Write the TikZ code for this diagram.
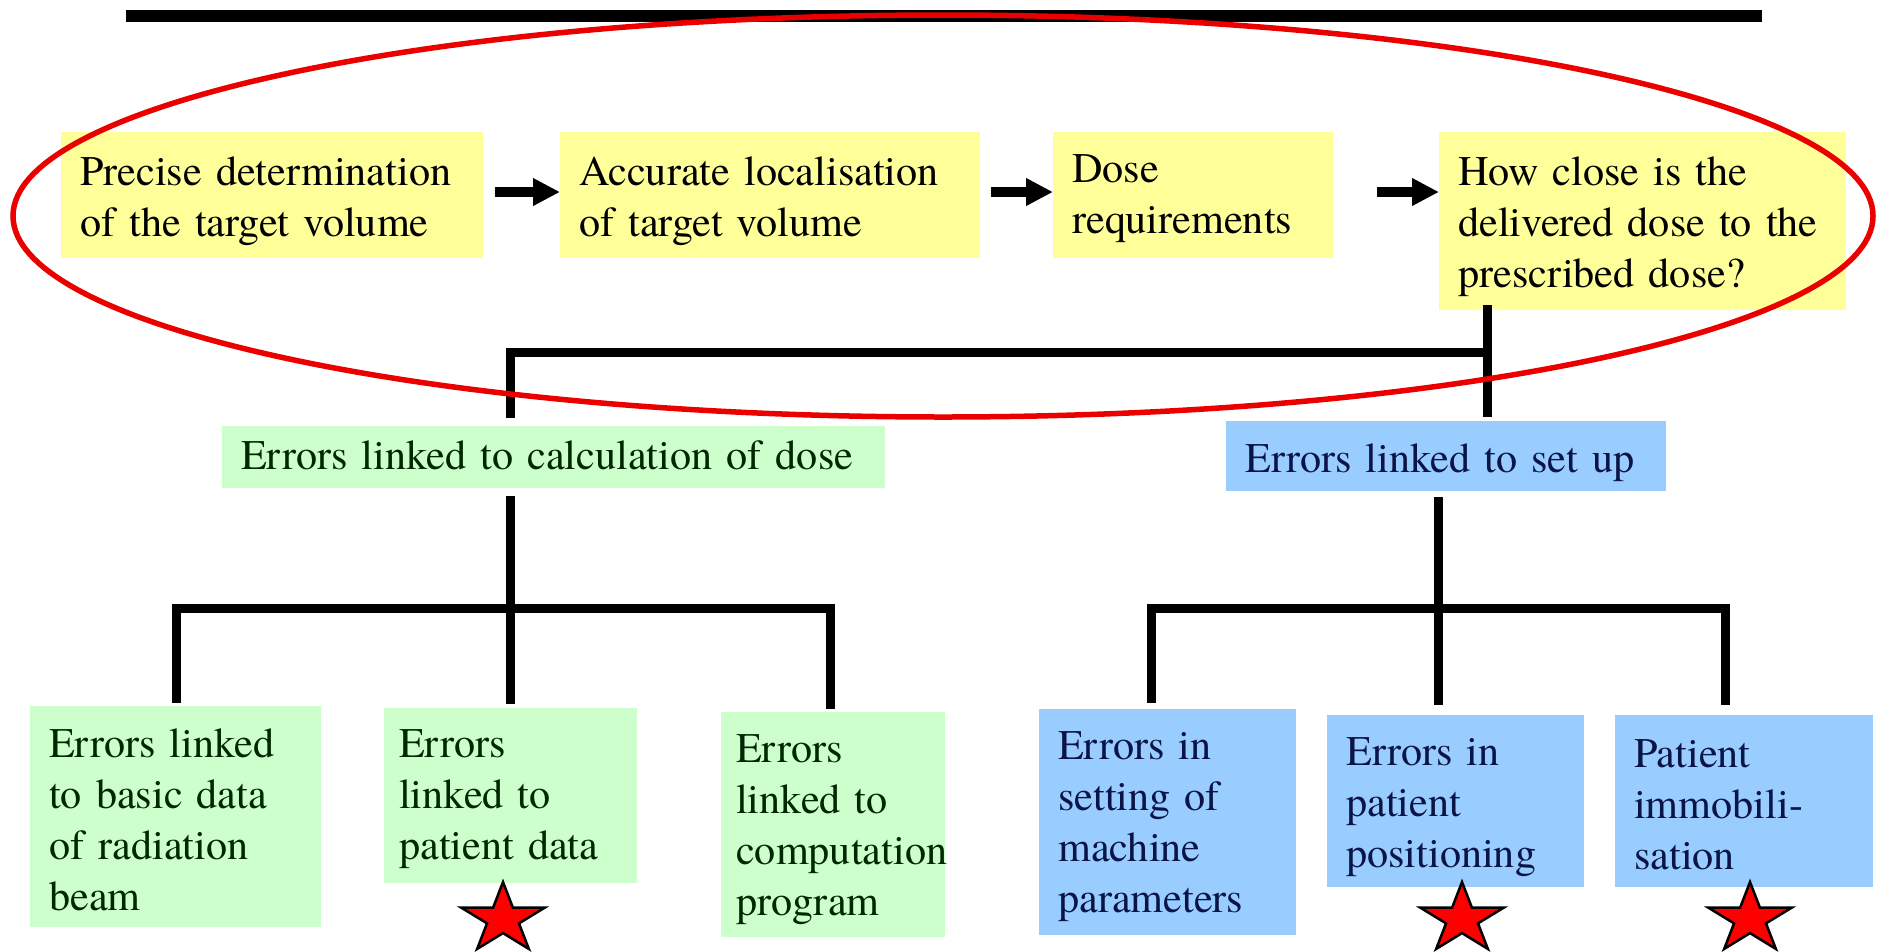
\documentclass[tikz,border=0pt]{standalone}
\usepackage{fontspec}
\setmainfont{TeX Gyre Termes}
\usetikzlibrary{arrows.meta}
\definecolor{yfill}{RGB}{255,255,153}
\definecolor{gfill}{RGB}{204,255,204}
\definecolor{bfill}{RGB}{153,204,255}
\definecolor{gtext}{RGB}{0,40,0}
\definecolor{btext}{RGB}{10,20,70}
\definecolor{ellred}{RGB}{235,0,0}
\hyphenpenalty=10000\relax
\exhyphenpenalty=10000\relax
\newcommand{\mystrut}[1]{\rule{0pt}{#1}}
\newcommand{\mydepth}[1]{\rule[-#1]{0pt}{#1}}
\newcommand{\drawredstar}[1]{\draw[starst] (#1) +(90:44pt and 37pt) -- +(126:16.8pt and 14.1pt) -- +(162:44pt and 37pt) -- +(198:16.8pt and 14.1pt) -- +(234:44pt and 37pt) -- +(270:16.8pt and 14.1pt) -- +(306:44pt and 37pt) -- +(342:16.8pt and 14.1pt) -- +(18:44pt and 37pt) -- +(54:16.8pt and 14.1pt) -- cycle;}
\tikzset{
  box/.style={rectangle, anchor=north west, inner xsep=19pt, inner ysep=0pt, align=left,
    font=\fontsize{42.2pt}{51pt}\selectfont},
  ybox/.style={box, fill=yfill, text=black},
  gbox/.style={box, fill=gfill, text=gtext},
  bbox/.style={box, fill=bfill, text=btext},
  conn/.style={line width=9pt, line join=miter},
  arr/.style={line width=10pt, -{Triangle[length=27pt,width=26pt]}},
  starst/.style={fill=red, draw=black, line width=2.5pt, line join=miter}
}
\begin{document}
\begin{tikzpicture}[x=1pt, y=-1pt]
\useasboundingbox (0,0) rectangle (1881,951);
\fill[white] (0,0) rectangle (1881,951);

% top rule
\draw[line width=12pt] (126,16) -- (1762,16);

% top row
\node[ybox, minimum width=422pt, minimum height=126pt, text width=384pt] (p1) at (61,132) {\mystrut{40pt}Precise determination\\of the target volume};
\node[ybox, minimum width=420pt, minimum height=126pt, text width=382pt] (p2) at (560,132) {\mystrut{40pt}Accurate localisation\\of target volume};
\node[ybox, minimum width=280pt, minimum height=126pt, text width=242pt] (p3) at (1053,132) {\mystrut{35pt}Dose\\requirements};
\node[ybox, minimum width=407pt, minimum height=178pt, text width=369pt] (p4) at (1439,132) {\mystrut{40pt}How close is the\\delivered dose to the\\prescribed dose?};

% middle row
\node[gbox, minimum width=663pt, minimum height=62pt, text width=625pt] (calc) at (222,426) {Errors linked to calculation of dose\mydepth{5pt}};
\node[bbox, minimum width=440pt, minimum height=70pt, text width=402pt] (setup) at (1226,421) {\mystrut{41pt}Errors linked to set up};

% bottom row
\node[gbox, minimum width=291pt, minimum height=221pt, text width=253pt] (g1) at (30,706) {\mystrut{35pt}Errors linked\\to basic data\\of radiation\\beam};
\node[gbox, minimum width=253pt, minimum height=175pt, text width=223pt, inner xsep=15pt] (g2) at (384,708) {\mystrut{35pt}Errors\\linked to\\patient data};
\node[gbox, minimum width=224pt, minimum height=225pt, text width=194pt, inner xsep=15pt] (g3) at (721,712) {\mystrut{37pt}Errors\\linked to\\computation\\program};
\node[bbox, minimum width=257pt, minimum height=226pt, text width=219pt] (b1) at (1039,709) {\mystrut{36pt}Errors in\\setting of\\machine\\parameters};
\node[bbox, minimum width=257pt, minimum height=172pt, text width=219pt] (b2) at (1327,715) {\mystrut{40pt}Errors in\\patient\\positioning};
\node[bbox, minimum width=258pt, minimum height=172pt, text width=220pt] (b3) at (1615,715) {\mystrut{34pt}Patient\\immobili-\\sation};

% arrows
\coordinate (ay) at (0,192);
\draw[arr, shorten <=12pt] (p1.east |- ay) -- (p2.west |- ay);
\draw[arr, shorten <=11pt] (p2.east |- ay) -- (p3.west |- ay);
\draw[arr, shorten <=44pt] (p3.east |- ay) -- (p4.west |- ay);

% connectors top
\coordinate (j1) at (1487,352);
\coordinate (j2) at (510,352);
\draw[conn, shorten <=-5pt, shorten >=4pt] (p4.south -| j1) -- (setup.north -| j1);
\draw[conn, shorten >=8pt] (j1) -- (j2) -- (calc.north -| j2);

% connectors left tree
\coordinate (k0) at (176,608);
\coordinate (k1) at (510,608);
\coordinate (k2) at (830,608);
\draw[conn, shorten <=8pt, shorten >=4pt] (calc.south -| k1) -- (g2.north -| k1);
\draw[conn, shorten <=3pt, shorten >=3pt] (g1.north -| k0) -- (k0) -- (k2) -- (g3.north -| k2);

% connectors right tree
\coordinate (m0) at (1151,608);
\coordinate (m1) at (1438,608);
\coordinate (m2) at (1725,608);
\draw[conn, shorten <=6pt, shorten >=10pt] (setup.south -| m1) -- (b2.north -| m1);
\draw[conn, shorten <=6pt, shorten >=10pt] (b1.north -| m0) -- (m0) -- (m2) -- (b3.north -| m2);

% stars
\coordinate (s1) at (503,919);
\coordinate (s2) at (1462,919);
\coordinate (s3) at (1750,919);
\drawredstar{s1}
\drawredstar{s2}
\drawredstar{s3}

% ellipse
\draw[ellred, line width=5.5pt] (943,216) ellipse [x radius=930pt, y radius=201pt];
\end{tikzpicture}
\end{document}
